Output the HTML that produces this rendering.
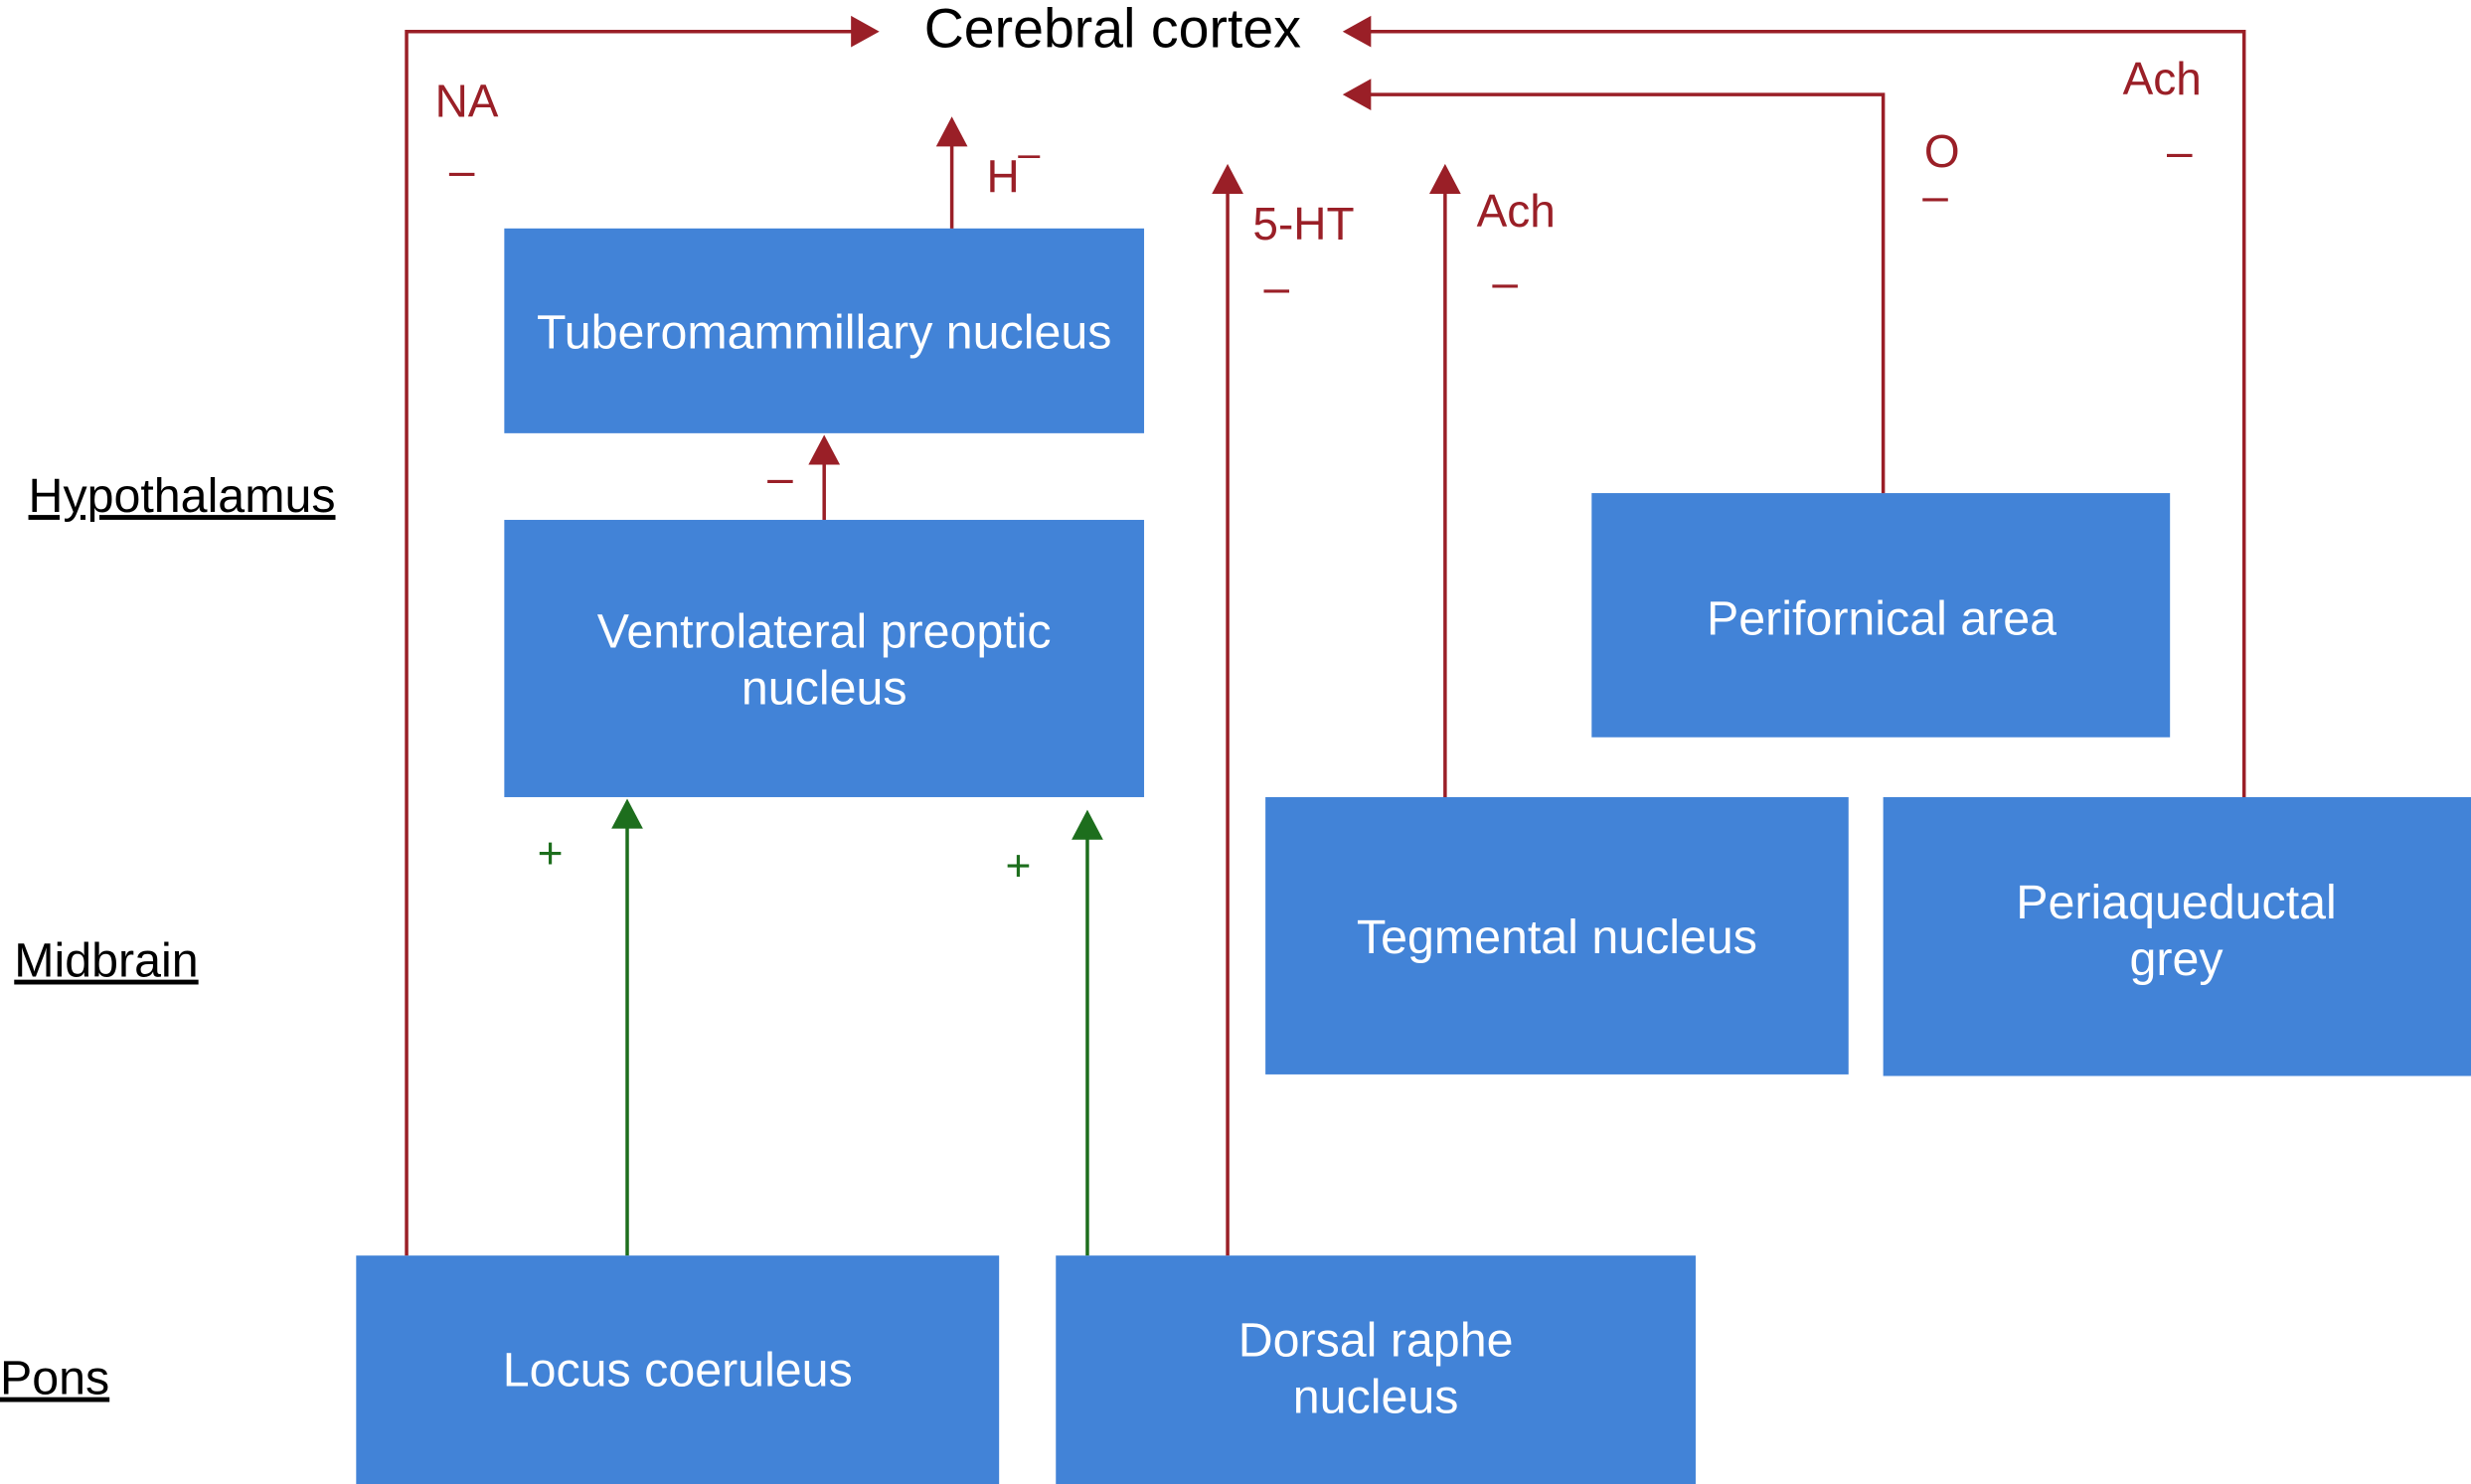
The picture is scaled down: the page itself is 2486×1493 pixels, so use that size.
<!DOCTYPE html>
<html><head><meta charset="utf-8"><style>html,body{margin:0;padding:0;background:#fff}svg{display:block}</style></head><body>
<svg width="2486" height="1493" viewBox="0 0 1568 942" preserveAspectRatio="none" xmlns="http://www.w3.org/2000/svg" font-family="Liberation Sans, Arial, sans-serif">
<g fill="#4283d7">
<rect x="320" y="145" width="406" height="130"/>
<rect x="320" y="330" width="406" height="176"/>
<rect x="1010" y="313" width="367" height="155"/>
<rect x="803" y="506" width="370" height="176"/>
<rect x="1195" y="506" width="373" height="177"/>
<rect x="226" y="797" width="408" height="145"/>
<rect x="670" y="797" width="406" height="145"/>
</g>
<g fill="none" stroke="#9a1f27" stroke-width="2.2">
<polyline points="258,797 258,20 542,20"/>
<polyline points="1424,506 1424,20 868,20"/>
<polyline points="1195,313 1195,60 868,60"/>
<line x1="604" y1="145" x2="604" y2="90"/>
<line x1="779" y1="797" x2="779" y2="119"/>
<line x1="917" y1="506" x2="917" y2="119"/>
<line x1="523" y1="330" x2="523" y2="292"/>
</g>
<g fill="#9a1f27">
<polygon points="558,20 540,10 540,30"/>
<polygon points="852,20 870,10 870,30"/>
<polygon points="852,60 870,50 870,70"/>
<polygon points="604,74 594,93 614,93"/>
<polygon points="779,104 769,123 789,123"/>
<polygon points="917,104 907,123 927,123"/>
<polygon points="523,276 513,295 533,295"/>
</g>
<g stroke="#1d6e1d" stroke-width="2.2"><line x1="398" y1="797" x2="398" y2="522"/><line x1="690" y1="797" x2="690" y2="529"/></g>
<g fill="#1d6e1d"><polygon points="398,507 388,526 408,526"/><polygon points="690,514 680,533 700,533"/>
<text x="341" y="551" font-size="28">+</text><text x="638" y="559" font-size="28">+</text></g>
<text x="706" y="30" font-size="35" text-anchor="middle" fill="#000">Cerebral cortex</text>
<g fill="#9a1f27" font-size="29">
<text x="276" y="74">NA</text><text x="285" y="118">–</text>
<text x="626" y="122">H</text><text x="646" y="106" font-size="25">–</text>
<text x="795" y="152">5-HT</text><text x="802" y="192">–</text>
<text x="937" y="144">Ach</text><text x="947" y="189">–</text>
<text x="1221" y="106">O</text><text x="1220" y="134">–</text>
<text x="1347" y="60">Ach</text><text x="1375" y="106">–</text>
<text x="487" y="313">–</text>
</g>
<g fill="#fff" font-size="30.5" text-anchor="middle">
<text x="523" y="221">Tuberomammillary nucleus</text>
<text x="523" y="411">Ventrolateral preoptic</text><text x="523" y="447">nucleus</text>
<text x="1194" y="403">Perifornical area</text>
<text x="988" y="605">Tegmental nucleus</text>
<text x="1381" y="583">Periaqueductal</text><text x="1381" y="619">grey</text>
<text x="430" y="880">Locus coeruleus</text>
<text x="873" y="861">Dorsal raphe</text><text x="873" y="897">nucleus</text>
</g>
<g fill="#000" font-size="30.5" text-decoration="underline">
<text x="18" y="325">Hypothalamus</text>
<text x="9" y="620">Midbrain</text>
<text x="0" y="885">Pons</text>
</g>
</svg>
</body></html>
